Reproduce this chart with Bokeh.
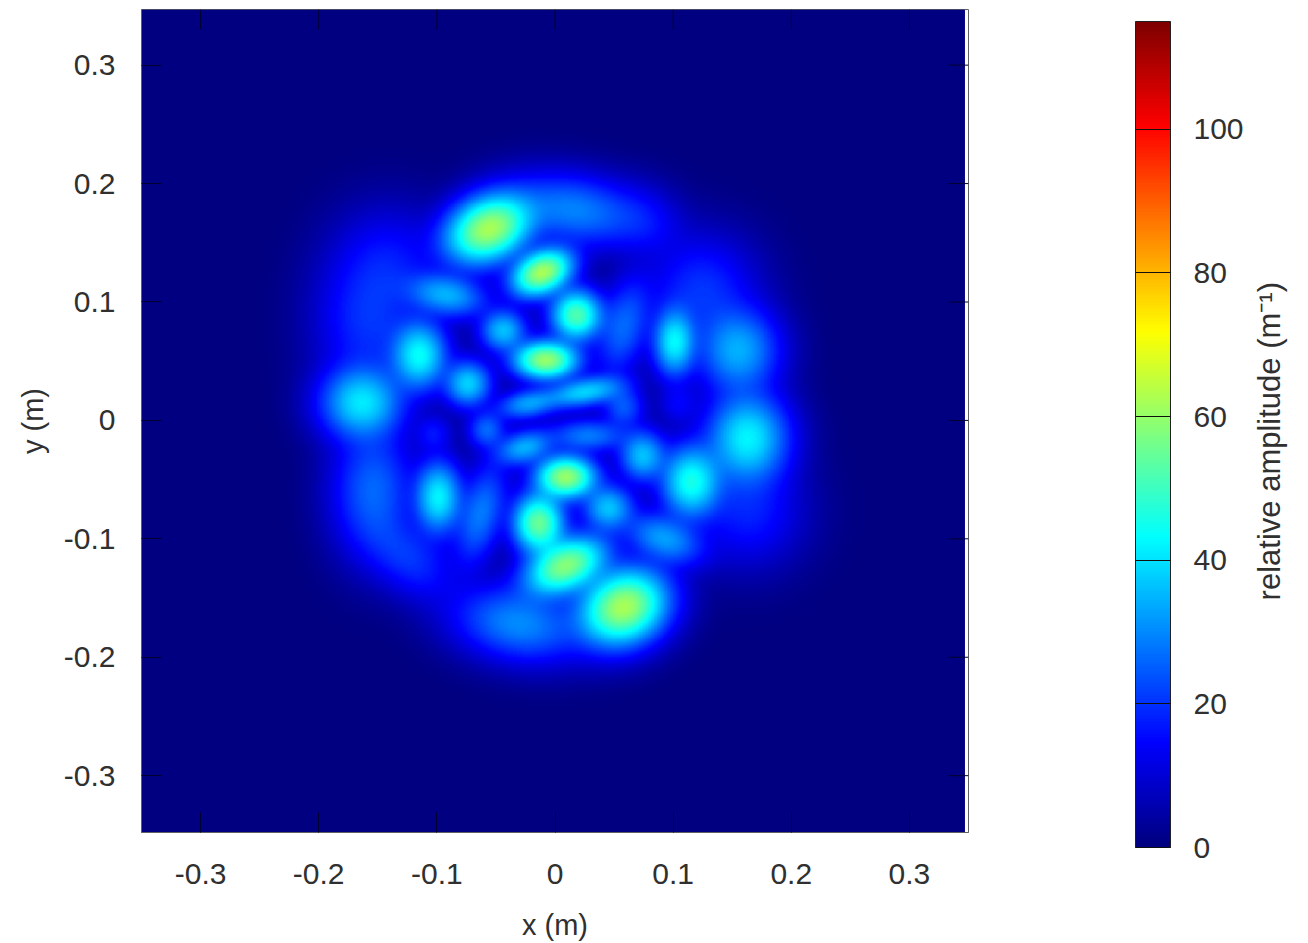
import numpy as np
from bokeh.embed import file_html
from bokeh.resources import INLINE
from bokeh.plotting import figure
from bokeh.models import LinearColorMapper, FixedTicker, LinearAxis, Range1d, ColorBar

# Lobes: centre (m), peak amplitude (1/m), widths (m), tilt (deg)
lobe_x = [-.056,-.011,-.092,-.044,-.115,-.008,-.074,-.164,.018,.101,.058,.155,.124,.016,.073,-.158,-.139,
          .025,-.023,.058,-.026,-.058,-.103,.028,.009,.045,-.014,.009,.058,-.031,.092,.115,.074,.163,-.099,-.063,-.154,-.124,.163,.104]
lobe_y = [.162,.125,.106,.076,.055,.051,.031,.015,.089,.066,.079,.059,.110,.178,.169,.085,.135,
          .024,.014,.011,-.023,-.008,-.011,-.013,-.048,-.074,-.087,-.123,-.158,-.172,-.100,-.052,-.030,-.015,-.065,-.079,-.059,-.116,-.076,.014]
lobe_amp = [62,62,34,36,43,60,38,40,52,42,26,34,20,29,15,20,15,
            38,32,24,34,26,16,28,60,36,55,58,62,30,32,45,36,42,42,28,26,20,18,14]
lobe_sx = [.021,.015,.019,.011,.013,.015,.011,.019,.012,.010,.012,.019,.025,.030,.020,.024,.025,
           .019,.015,.010,.014,.009,.009,.019,.014,.012,.012,.020,.021,.030,.019,.014,.011,.019,.011,.011,.019,.025,.025,.010]
lobe_sy = [.015,.010,.010,.010,.016,.009,.011,.017,.012,.016,.024,.020,.025,.016,.016,.034,.025,
           .007,.007,.010,.008,.009,.009,.008,.010,.011,.014,.012,.017,.017,.011,.017,.012,.021,.017,.025,.030,.016,.025,.010]
lobe_tilt = [25,25,-10,0,0,0,0,0,0,0,-15,0,0,-10,-25,0,0,
             10,10,0,15,0,0,0,0,0,0,25,25,-10,-20,0,0,0,0,-15,0,-40,0,0]
lobe_spread = 1.45

x_ticks = [-0.3,-0.2,-0.1,0,0.1,0.2,0.3]
y_ticks = [-0.3,-0.2,-0.1,0,0.1,0.2,0.3]
tick_text = {-0.3:"-0.3",-0.2:"-0.2",-0.1:"-0.1",0:"0",0.1:"0.1",0.2:"0.2",0.3:"0.3"}
cb_ticks = [0,20,40,60,80,100]
cb_max = 115
cb_title = "relative amplitude (m⁻¹)"
cb_title_at = -0.152
jet_pos = [0,.125,.375,.625,.875,1]
jet_r = [0,0,0,255,255,128]
jet_g = [0,0,255,255,0,0]
jet_b = [128,255,255,0,0,0]

FONT = "Liberation Sans"
TXT = "#303030"

t = np.linspace(0,1,256)
palette = ["#%02x%02x%02x" % (int(np.interp(v,jet_pos,jet_r)),int(np.interp(v,jet_pos,jet_g)),int(np.interp(v,jet_pos,jet_b))) for v in t]
mapper = LinearColorMapper(palette=palette, low=0, high=cb_max)

X0, X1, Y0, Y1 = -0.35, 0.347, -0.348, 0.347
xs = np.linspace(X0, X1, 560)
ys = np.linspace(Y0, Y1, 560)
gx, gy = np.meshgrid(xs, ys)
field2 = np.zeros_like(gx)
for cx, cy, a, sx, sy, th in zip(lobe_x, lobe_y, lobe_amp, lobe_sx, lobe_sy, lobe_tilt):
    th = np.radians(th)
    sx, sy = sx*lobe_spread, sy*lobe_spread
    u = (gx-cx)*np.cos(th) + (gy-cy)*np.sin(th)
    v = -(gx-cx)*np.sin(th) + (gy-cy)*np.cos(th)
    field2 += (a*np.exp(-0.5*((u/sx)**2+(v/sy)**2)))**2
field = np.sqrt(field2)

p = figure(width=1308, height=943, output_backend="svg", toolbar_location=None,
           x_range=Range1d(-0.35,0.35), y_range=Range1d(Y0,Y1),
           min_border_left=141, min_border_right=340, min_border_top=9, min_border_bottom=111)
p.grid.visible = False
p.image(image=[field], x=X0, y=Y0, dw=X1-X0, dh=Y1-Y0, color_mapper=mapper)
p.outline_line_color = "#606060"

def style_axis(ax, ticks, size, col="#000030"):
    ax.ticker = FixedTicker(ticks=ticks)
    ax.major_tick_in = size
    ax.major_tick_out = 0
    ax.minor_tick_in = 0
    ax.minor_tick_out = 0
    ax.major_tick_line_color = col
    ax.major_tick_line_width = 1
    ax.axis_line_color = "#606060"

p.xaxis.axis_label = "x (m)"
p.yaxis.axis_label = "y (m)"
for ax, ticks in ((p.xaxis[0], x_ticks), (p.yaxis[0], y_ticks)):
    style_axis(ax, ticks, 20)
    ax.major_label_overrides = tick_text
    ax.major_label_text_font = FONT
    ax.major_label_text_font_size = "30px"
    ax.major_label_text_color = TXT
    ax.axis_label_text_font = FONT
    ax.axis_label_text_font_size = "29px"
    ax.axis_label_text_font_style = "normal"
    ax.axis_label_text_color = TXT
p.xaxis[0].major_label_standoff = 31
p.xaxis[0].axis_label_standoff = 22
p.yaxis[0].major_label_standoff = 26
p.yaxis[0].axis_label_standoff = 12

# mirrored inward ticks on the top and right edges
tick_len = 20/1182
p.segment(x0=x_ticks, x1=x_ticks, y0=[Y1]*len(x_ticks), y1=[Y1-tick_len]*len(x_ticks), line_color="#000030", line_width=1)
p.segment(x0=[0.35]*len(y_ticks), x1=[0.35-tick_len]*len(y_ticks), y0=y_ticks, y1=y_ticks, line_color="#000030", line_width=1)

cb = ColorBar(color_mapper=mapper, ticker=FixedTicker(ticks=cb_ticks), location=(994,-15),
              width=35, height=826, padding=0, margin=0,
              major_tick_in=35, major_tick_line_color="#101010", major_tick_line_width=1,
              minor_tick_line_color=None, bar_line_color="#202020", border_line_color=None,
              background_fill_alpha=0, label_standoff=23,
              major_label_text_font=FONT, major_label_text_font_size="30px", major_label_text_color=TXT)
p.add_layout(cb, "center")

# the colour bar's title: a single rotated tick label on an otherwise empty axis far to the right
rax = LinearAxis(ticker=FixedTicker(ticks=[cb_title_at]), axis_line_color=None,
                 major_tick_line_color=None, minor_tick_line_color=None,
                 major_label_overrides={cb_title_at: cb_title},
                 major_label_orientation=np.pi/2, major_label_standoff=295,
                 major_label_text_font=FONT, major_label_text_font_size="31px",
                 major_label_text_color=TXT)
p.add_layout(rax, "right")

open("out.html", "w").write(file_html(p, INLINE))
